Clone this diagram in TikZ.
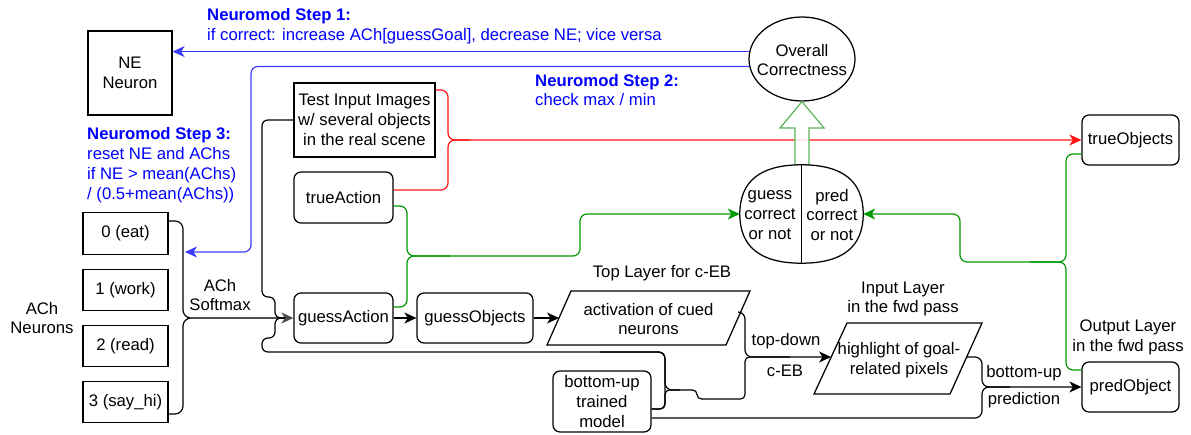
\documentclass[tikz,border=0pt]{standalone}
\usepackage{fontspec}
\setmainfont{Liberation Sans}
\usetikzlibrary{arrows.meta,shapes.geometric,calc}

\definecolor{nmtext}{RGB}{0,0,255}
\definecolor{nmline}{RGB}{60,60,255}
\definecolor{okgreen}{RGB}{0,153,0}
\definecolor{blockgreen}{RGB}{90,180,90}
\definecolor{softgray}{RGB}{80,80,80}
\definecolor{hotred}{RGB}{255,20,20}

\newcommand\dgfont{\fontsize{16.7}{19.9}\selectfont}

\begin{document}
\begin{tikzpicture}[x=1pt,y=-1pt,
  every node/.style={font=\dgfont, inner sep=0pt, align=center},
  sqbox/.style={draw, line width=1.25pt},
  rbox/.style={draw, line width=1.25pt, rounded corners=7pt},
  wire/.style={line width=1.2pt, rounded corners=7pt, line join=round},
  tip/.style={-{Stealth[length=12pt,width=11pt,inset=3.5pt]}}]

\fill[white] (0,0) rectangle (1191,434);
\useasboundingbox (0,0) rectangle (1191,434);

% ---- boxes ----
\node[sqbox, minimum width=84, minimum height=84] (ne) at (130,73) {NE\\Neuron};
\node[sqbox, minimum width=141, minimum height=74] (ti) at (364.5,120) {Test Input Images\\w/ several objects\\in the real scene};
\node[rbox, minimum width=99, minimum height=51] (ta) at (343.5,197.5) {trueAction};
\node[rbox, minimum width=99, minimum height=50] (ga) at (343.5,318) {guessAction};
\node[rbox, minimum width=116, minimum height=50] (go) at (475,318) {guessObjects};
\node[rbox, minimum width=97, minimum height=50] (tobj) at (1130.5,140) {trueObjects};
\node[rbox, minimum width=97, minimum height=50] (pobj) at (1130.5,387) {predObject};
\node[rbox, minimum width=98, minimum height=61] (mdl) at (602,401.5) {bottom-up\\trained\\model};

\node[sqbox, minimum width=85, minimum height=41.5] (a0) at (125.5,233.5) {0 (eat)};
\node[sqbox, minimum width=85, minimum height=41.5] (a1) at (125.5,290) {1 (work)};
\node[sqbox, minimum width=85, minimum height=41.5] (a2) at (125.5,346) {2 (read)};
\node[sqbox, minimum width=85, minimum height=41.5] (a3) at (125.5,402) {3 (say\_hi)};

% ---- parallelograms ----
\coordinate (p1) at (571,291); \coordinate (p2) at (750,291);
\coordinate (p3) at (726,345); \coordinate (p4) at (547,345);
\draw[line width=1.25pt] (p1) -- (p2) -- (p3) -- (p4) -- cycle;
\node (act) at (648.5,319) {activation of cued\\neurons};
\coordinate (actin) at (559,318);
\coordinate (actout) at (738,312);

\coordinate (h1) at (847,323); \coordinate (h2) at (982,323);
\coordinate (h3) at (950,394); \coordinate (h4) at (814,394);
\draw[line width=1.25pt] (h1) -- (h2) -- (h3) -- (h4) -- cycle;
\node (hl) at (899,360) {highlight of goal-\\related pixels};
\coordinate (hlin) at (831,357);
\coordinate (hlout) at (966,357);

% ---- red links to trueObjects ----
\draw[wire, draw=hotred] (ta.east |- 0,190) -- (448,190) -- (448,140) -- (470,140);
\draw[wire, draw=hotred, tip] (ti.east |- 0,90) -- (448,90) -- (448,140) -- (tobj.west);

% ---- overall correctness and evaluation node ----
\node[draw, ellipse, line width=1.25pt, minimum width=106, minimum height=84] (oc) at (802,59) {};
\node (octx) at (802,60) {Overall\\Correctness};

\draw[line width=1.2pt, draw=blockgreen, fill=white, fill opacity=0.85, line join=miter]
  (795,165) -- (795,128) -- (780,128) -- (oc.south) -- (824,128) -- (809,128) -- (809,165) -- cycle;

% rounded oval split in two halves
\node[minimum width=123, minimum height=98] (gc) at (801.5,214) {};
\draw[line width=1.25pt, fill=white]
  (gc.west) .. controls ++(0,-33) and ++(-41,0) .. (gc.north)
            .. controls ++(41,0) and ++(0,-33) .. (gc.east)
            .. controls ++(0,33) and ++(41,0) .. (gc.south)
            .. controls ++(-41,0) and ++(0,33) .. (gc.west) -- cycle;
\draw[line width=1.25pt] (gc.north) -- (gc.south);
\node (gctx) at (770,215) {guess\\correct\\or not};
\node (pctx) at (832,215) {pred\\correct\\or not};

% ---- green links ----
\draw[wire, draw=okgreen] (ga.east |- 0,307) -- (407,307) -- (407,256) -- (450,256);
\draw[wire, draw=okgreen, tip] (ta.east |- 0,206) -- (407,206) -- (407,256) -- (580,256) -- (580,214) -- (gc.west);
\draw[wire, draw=okgreen] (pobj.west |- 0,370) -- (1066,370) -- (1066,262) -- (1030,262);
\draw[wire, draw=okgreen, tip] (tobj.west |- 0,154) -- (1066,154) -- (1066,262) -- (960,262) -- (960,214) -- (gc.east);

% ---- neuromodulation (blue) ----
\draw[wire, draw=nmline, tip] (oc.172) -- (ne.east |- oc.172);
\coordinate (achin) at (185,252);
\draw[wire, draw=nmline, tip] (oc.188) -| (251,252) -- (achin);

% ---- ACh softmax brace ----
\draw[wire, rounded corners=8pt] (a0.east |- 0,221) -- (183,221) -- (183,318) -- (198,318);
\draw[wire, rounded corners=8pt] (a3.east |- 0,414) -- (183,414) -- (183,318) -- (198,318);
\draw[wire, draw=softgray, tip] (190,318) -- (ga.west);

% ---- black data flow ----
\draw[wire, rounded corners=6pt] (ti.west |- 0,120) -- (262,120) -- (262,297) -- (275,297) -- (275,318) -- (285,318);
\draw[wire, rounded corners=6pt] (mdl.east |- 0,409) -- (665,409) -- (665,352) -- (262,352) -- (262,338) -- (275,338) -- (275,318) -- (285,318);
\draw[wire, tip] (ga.east) -- (go.west);
\draw[wire, tip] (go.east) -- (actin);

\draw[wire] (600,352) -- (665,352) -- (665,390) -- (680,390);
\draw[wire, rounded corners=4.5pt] (mdl.east |- 0,409) -- (665,409) -- (665,390) -- (697,390) -- (697,399) -- (745,399) -- (745,357) -- (790,357);
\draw[wire, tip] (actout) -- (745,312) -- (745,357) -- (hlin);

\draw[wire] (mdl.east |- 0,418) -- (982,418) -- (982,387) -- (1010,387);
\draw[wire, tip] (hlout) -- (982,357) -- (982,387) -- (pobj.west);

% ---- captions ----
\node[anchor=west, align=left, text=nmtext] (s1) at (207,26) {\textbf{Neuromod Step 1:}\\if correct: increase ACh[guessGoal], decrease NE; vice versa};
\node[anchor=west, align=left, text=nmtext] (s2) at (535,90) {\textbf{Neuromod Step 2:}\\check max / min};
\node[anchor=west, align=left, text=nmtext] (s3) at (87,165) {\textbf{Neuromod Step 3:}\\reset NE and AChs\\if NE > mean(AChs)\\/ (0.5+mean(AChs))};

\node (tl) at (662,273) {Top Layer for c-EB};
\node (il) at (903,299) {Input Layer\\in the fwd pass};
\node (ol) at (1128,337) {Output Layer\\in the fwd pass};
\node (achn) at (42,318) {ACh\\Neurons};
\node (achs) at (220,295) {ACh\\Softmax};
\node (td) at (786,341) {top-down};
\node (ceb) at (785,371) {c-EB};
\node (bu) at (1024,373) {bottom-up};
\node (pr) at (1024,400) {prediction};

\end{tikzpicture}
\end{document}
